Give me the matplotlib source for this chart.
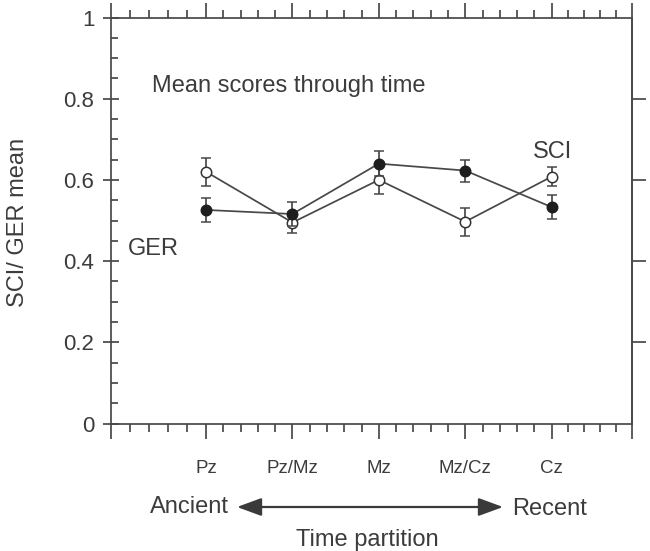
import matplotlib
matplotlib.use('Agg')
import matplotlib.pyplot as plt
import numpy as np

plt.rcParams['font.family'] = ['Liberation Sans', 'DejaVu Sans']

# data
periods = ['Pz', 'Pz/Mz', 'Mz', 'Mz/Cz', 'Cz']
sci_mean = [0.620, 0.495, 0.600, 0.497, 0.608]
sci_err = [0.035, 0.025, 0.035, 0.034, 0.023]
ger_mean = [0.526, 0.516, 0.640, 0.623, 0.533]
ger_err = [0.030, 0.030, 0.030, 0.027, 0.030]

W, H = 650, 551
TXT = '#3c3c3c'
LN = '#484848'
LW = 1.25


def fx(px):
    return px / W


def fy(py):
    return (H - py) / H


fig = plt.figure(figsize=(6.5, 5.51), dpi=100)
ax = fig.add_axes([fx(111), fy(423.5), fx(632) - fx(111), fy(17.5) - fy(423.5)])

x = np.arange(1, len(periods) + 1)

ax.errorbar(x, sci_mean, yerr=sci_err, color=LN, lw=LW, marker='o', ms=7.5,
            mfc='white', mec='#333333', mew=1.1, ecolor=LN, elinewidth=LW,
            capsize=3.8, capthick=LW, zorder=3)
ax.errorbar(x, ger_mean, yerr=ger_err, color=LN, lw=LW, marker='o', ms=7.5,
            mfc='#1e1e1e', mec='#1e1e1e', mew=1.1, ecolor=LN, elinewidth=LW,
            capsize=3.8, capthick=LW, zorder=4)

xmin, xmax = -0.1, 5.93
ax.set_xlim(xmin, xmax)
ax.set_ylim(0, 1)

# x ticks: long ones at the spines and categories, four short ones in between
xmaj = np.concatenate([[xmin], x, [xmax]])
xmin_ticks = np.concatenate([np.linspace(a, b, 6)[1:-1] for a, b in zip(xmaj[:-1], xmaj[1:])])
ax.set_xticks(xmaj, labels=[''] + periods + [''])
ax.set_xticks(xmin_ticks, minor=True)
ax.tick_params(axis='x', which='major', direction='out', length=11, width=LW,
               color=LN, top=True, bottom=True, labelsize=13.5, labelcolor=TXT, pad=15)
ax.tick_params(axis='x', which='minor', direction='out', length=5.8, width=LW,
               color=LN, top=True, bottom=True)

# y ticks
ax.set_yticks([0, 0.2, 0.4, 0.6, 0.8, 1.0], labels=['0', '0.2', '0.4', '0.6', '0.8', '1'])
ax.set_yticks(np.arange(0.05, 1.0, 0.05), minor=True)
ax.tick_params(axis='y', which='major', direction='inout', length=12, width=LW,
               color=LN, labelsize=16, labelcolor=TXT, pad=6)
ax.tick_params(axis='y', which='minor', direction='in', length=5, width=LW, color=LN)

sec = ax.secondary_yaxis('right')
sec.set_yticks([0.2, 0.4, 0.6, 0.8], labels=[])
sec.tick_params(direction='out', length=10, width=LW, color=LN)
sec.spines['right'].set_color(LN)
sec.spines['right'].set_linewidth(LW)

for s in ax.spines.values():
    s.set_color(LN)
    s.set_linewidth(LW)

# labels and annotations
fig.text(fx(152), fy(92), 'Mean scores through time', fontsize=17, color=TXT,
         ha='left', va='baseline')
fig.text(fx(533), fy(158), 'SCI', fontsize=17, color=TXT, ha='left', va='baseline')
fig.text(fx(128), fy(255), 'GER', fontsize=17, color=TXT, ha='left', va='baseline')
fig.text(fx(18), fy(222), 'SCI/ GER mean', fontsize=17, color=TXT, rotation=90,
         ha='center', va='center')

fig.text(fx(150), fy(513), 'Ancient', fontsize=17, color=TXT, ha='left', va='baseline')
fig.text(fx(512), fy(515), 'Recent', fontsize=17, color=TXT, ha='left', va='baseline')
fig.text(fx(367), fy(546), 'Time partition', fontsize=17, color=TXT, ha='center', va='baseline')
ax.annotate('', xy=(fx(237), fy(507)), xytext=(fx(503), fy(507)),
            xycoords='figure fraction', textcoords='figure fraction',
            arrowprops=dict(arrowstyle='<|-|>,head_length=1.5,head_width=0.55',
                            color='#3a3a3a', lw=1.6, shrinkA=0, shrinkB=0,
                            mutation_scale=10))

fig.savefig('out.png', dpi=100)
